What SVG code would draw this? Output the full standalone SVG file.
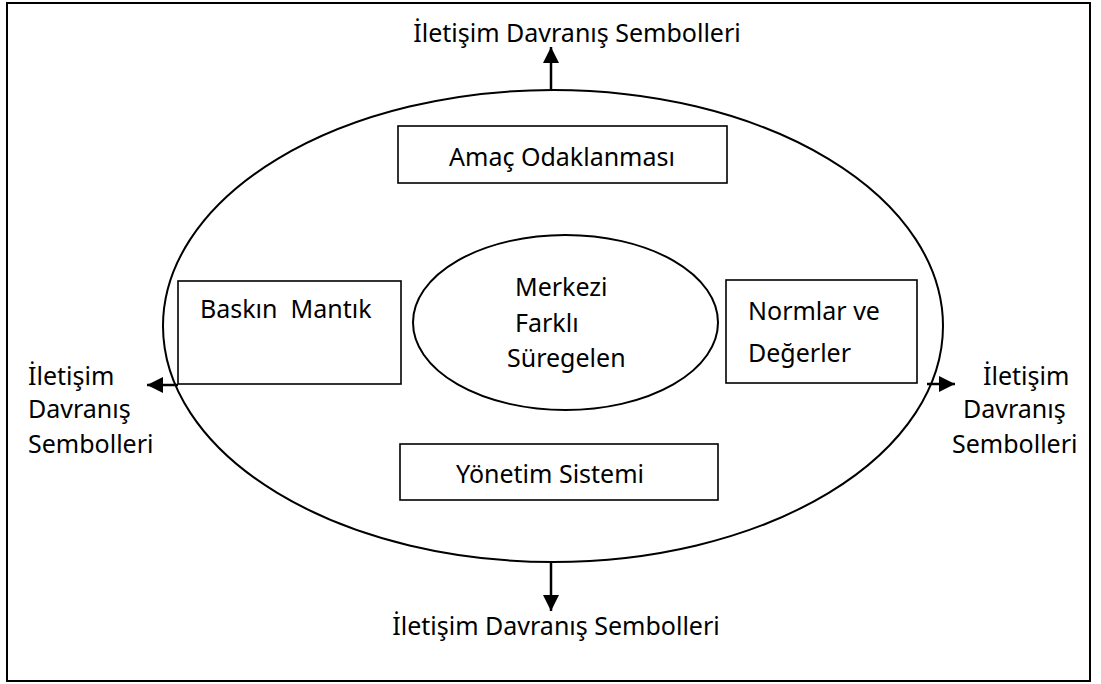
<svg xmlns="http://www.w3.org/2000/svg" width="1101" height="684" viewBox="0 0 1101 684">
<style>
text{font-family:"Noto Sans","Open Sans","Liberation Sans",sans-serif;font-size:25px;fill:#000}
.box{fill:#fff;stroke:#000;stroke-width:1.6}
.ell{fill:none;stroke:#000;stroke-width:2}
.arr{stroke:#000;stroke-width:2.5;fill:none;marker-end:url(#ah)}
</style>
<defs>
<marker id="ah" viewBox="0 0 10 10" refX="10" refY="5" markerWidth="6.4" markerHeight="6.4" markerUnits="strokeWidth" orient="auto">
<path d="M0,0 L10,5 L0,10 z" fill="#000"/>
</marker>
</defs>
<rect x="0" y="0" width="1101" height="684" fill="#fff"/>
<rect id="frame" x="7" y="3" width="1083" height="678" fill="none" stroke="#000" stroke-width="2"/>
<g id="outer-ellipse"><ellipse class="ell" cx="553" cy="326" rx="390" ry="236"/></g>
<g id="connectors">
<line class="arr" x1="551" y1="90" x2="551" y2="47"/>
<line class="arr" x1="551" y1="562" x2="551" y2="611"/>
<line class="arr" x1="178" y1="385" x2="147" y2="385"/>
<line class="arr" x1="927" y1="384" x2="955" y2="384"/>
</g>
<g id="amac"><rect class="box" x="398" y="126" width="329" height="57"/><text x="562" y="166" text-anchor="middle">Amaç Odaklanması</text></g>
<g id="baskin"><rect class="box" x="178" y="281" width="223" height="103"/><text x="200" y="318" xml:space="preserve">Baskın  Mantık</text></g>
<g id="normlar"><rect class="box" x="726" y="280" width="191" height="103"/><text x="748" y="320">Normlar ve</text><text x="748" y="362">Değerler</text></g>
<g id="yonetim"><rect class="box" x="400" y="444" width="318" height="56"/><text x="550" y="483" text-anchor="middle">Yönetim Sistemi</text></g>
<g id="merkez"><ellipse class="ell" cx="565.5" cy="322.5" rx="152.5" ry="87.5"/><text x="515" y="296">Merkezi</text><text x="515" y="332">Farklı</text><text x="507" y="367">Süregelen</text></g>
<g id="label-top"><text x="577" y="42" text-anchor="middle">İletişim Davranış Sembolleri</text></g>
<g id="label-bottom"><text x="556" y="635" text-anchor="middle">İletişim Davranış Sembolleri</text></g>
<g id="label-left"><text x="28" y="385">İletişim</text><text x="28" y="418">Davranış</text><text x="28" y="453">Sembolleri</text></g>
<g id="label-right"><text x="983" y="385">İletişim</text><text x="963" y="418">Davranış</text><text x="952" y="453">Sembolleri</text></g>
</svg>
